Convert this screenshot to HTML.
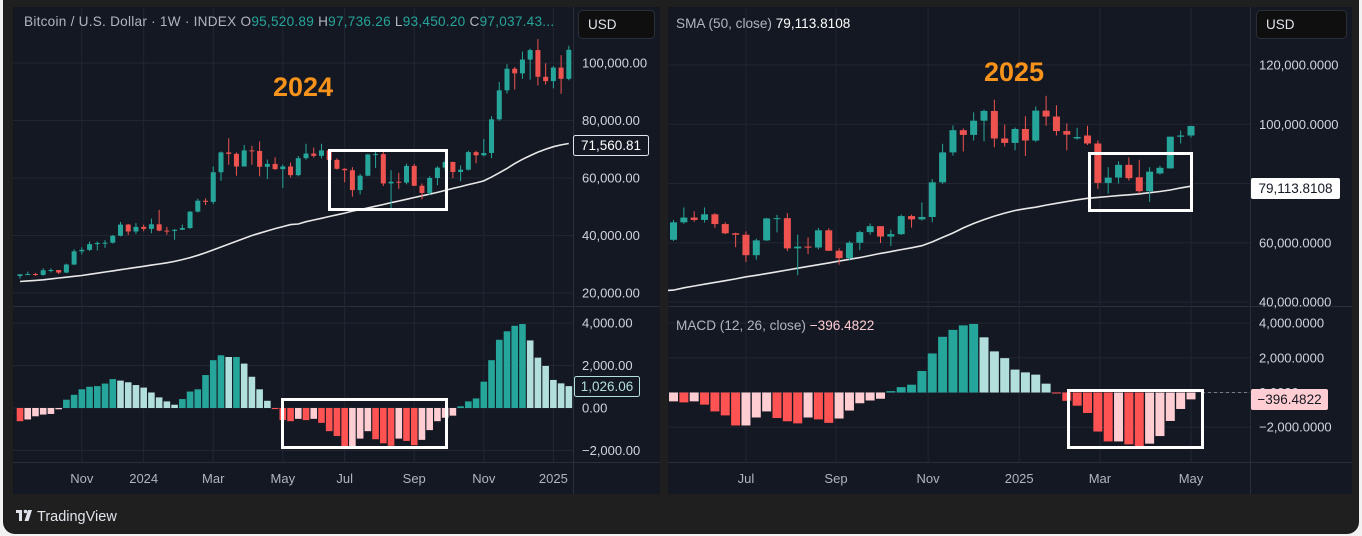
<!DOCTYPE html>
<html><head><meta charset="utf-8"><style>
html,body{margin:0;padding:0;background:#f2f2f2;}
#wrap{position:absolute;left:3px;top:0;width:1356px;height:534px;background:#1f1f1f;border-radius:0 0 12px 12px;overflow:hidden;}
svg{position:absolute;left:-3px;top:0;}
text{font-family:"Liberation Sans",sans-serif;}
</style></head><body>
<div id="wrap">
<svg id="svg" width="1362" height="536" viewBox="0 0 1362 536">
<defs>
<clipPath id="cLP"><rect x="13" y="8" width="560" height="298"/></clipPath>
<clipPath id="cLM"><rect x="13" y="307" width="560" height="155"/></clipPath>
<clipPath id="cRP"><rect x="668" y="8" width="582" height="298"/></clipPath>
<clipPath id="cRM"><rect x="668" y="307" width="582" height="155"/></clipPath>
</defs>
<g>
<rect x="13" y="7" width="647" height="487" fill="#141823"/>
<line x1="13" y1="306.5" x2="660" y2="306.5" stroke="#2a2e39"/>
<line x1="13" y1="462.5" x2="660" y2="462.5" stroke="#2a2e39"/>
<line x1="573.5" y1="7" x2="573.5" y2="494" stroke="#2a2e39"/>
<g id="LP"></g><g id="LM"></g><g id="LT"></g>
</g>
<g>
<rect x="668" y="7" width="684" height="487" fill="#141823"/>
<line x1="668" y1="306.5" x2="1352" y2="306.5" stroke="#2a2e39"/>
<line x1="668" y1="462.5" x2="1352" y2="462.5" stroke="#2a2e39"/>
<line x1="1250.5" y1="7" x2="1250.5" y2="494" stroke="#2a2e39"/>
<g id="RP"></g><g id="RM"></g><g id="RT"></g>
</g>
</svg>
</div>
<script>
// ---- data (weekly, index 0 = 2023-09-04), prices in thousands USD
const opens =[25.9,26.5,26.6,26.3,27.9,28.0,27.1,29.9,34.5,35.0,37.0,37.4,37.5,39.9,43.8,41.4,43.0,42.3,43.9,41.7,41.6,42.0,42.6,48.3,52.1,51.7,62.0,68.9,68.4,64.0,69.6,69.4,63.9,64.9,63.1,64.0,61.0,66.9,68.5,67.7,69.6,66.3,63.2,62.7,55.8,60.8,68.2,68.3,58.1,58.7,58.4,64.2,57.3,54.8,60.0,63.6,65.6,62.1,62.9,69.0,67.9,68.7,80.4,90.5,98.0,96.4,101.2,104.5,95.2,93.7,98.4,94.5,104.6,102.6,97.7,95.2,96.2,93.5,80.2,82.0,86.3,82.1,77.4,83.4,85.1,95.8,96.2];
const highs =[26.5,27.4,27.0,28.6,28.6,28.0,30.2,35.2,35.9,37.9,37.9,38.4,40.2,44.7,44.0,44.3,43.8,45.9,48.9,43.0,42.2,43.8,48.5,52.8,52.9,64.0,69.2,73.8,68.9,71.5,71.2,72.7,66.4,67.2,64.7,65.4,67.7,71.9,70.6,71.9,70.0,66.9,63.4,63.8,61.4,68.4,69.4,70.0,62.7,61.8,65.0,64.9,58.1,60.6,64.1,66.5,65.6,64.4,69.5,69.5,73.6,81.5,93.4,99.6,98.6,104.0,105.0,108.3,99.9,98.9,102.7,106.0,109.6,106.4,100.3,98.8,99.5,94.5,85.5,87.5,88.8,88.0,85.5,86.0,95.8,97.9,99.5];
const lows  =[25.0,26.3,26.0,26.0,27.2,26.6,26.9,29.7,33.4,34.6,34.8,35.7,37.2,39.7,40.2,40.5,41.5,40.8,41.5,40.3,38.5,41.9,42.3,48.0,50.6,50.9,59.0,64.6,60.8,64.0,64.6,60.6,59.6,62.8,56.5,60.2,60.6,66.4,67.1,66.8,65.0,62.9,58.5,53.5,54.3,60.6,63.5,57.2,49.0,56.2,57.8,57.2,52.6,54.0,57.5,62.7,59.9,58.9,62.6,65.1,67.5,66.9,79.9,89.4,90.8,94.5,94.2,92.2,92.5,91.2,89.3,94.0,99.5,96.2,91.2,94.8,93.0,78.2,76.6,80.0,81.0,76.6,73.8,83.0,85.0,93.5,95.5];
const closes=[26.5,26.6,26.3,27.9,28.0,27.1,29.9,34.5,35.0,37.0,37.4,37.5,39.9,43.8,41.4,43.0,42.3,43.9,41.7,41.6,42.0,42.6,48.3,52.1,51.7,62.0,68.9,68.4,64.0,69.6,69.4,63.9,64.9,63.1,64.0,61.0,66.9,68.5,67.7,69.6,66.3,63.2,62.7,55.8,60.8,68.2,68.3,58.1,58.7,58.4,64.2,57.3,54.8,60.0,63.6,65.6,62.1,62.9,69.0,67.9,68.7,80.4,90.5,98.0,96.4,101.2,104.5,95.2,93.7,98.4,94.5,104.6,102.6,97.7,96.5,95.7,93.5,80.2,82.0,86.3,81.8,77.4,84.0,85.3,95.8,96.2,99.4];
const sma50 =[24.0,24.2,24.4,24.6,24.9,25.2,25.5,25.8,26.1,26.5,26.9,27.3,27.7,28.1,28.5,28.9,29.3,29.7,30.1,30.5,31.0,31.6,32.3,33.1,34.0,35.0,36.0,37.0,38.0,39.0,40.0,40.8,41.6,42.4,43.1,43.8,44.0,44.8,45.4,46.0,46.6,47.2,47.8,48.5,49.0,49.6,50.2,50.8,51.4,52.0,52.6,53.2,53.8,54.4,55.0,55.7,56.4,57.0,57.7,58.3,59.0,60.3,61.8,63.3,65.0,66.5,67.8,69.0,70.0,70.9,71.5,72.0,72.7,73.3,73.9,74.5,75.0,75.3,75.6,75.9,76.2,76.5,76.9,77.3,77.8,78.5,79.1];
const macdHist=[-620,-540,-390,-310,-280,-60,390,620,880,1000,1030,1150,1360,1290,1210,1080,960,730,500,310,155,420,775,880,1550,2250,2480,2400,2400,2090,1470,880,340,-50,-570,-620,-510,-570,-510,-700,-1090,-1320,-1900,-1900,-1440,-1090,-1470,-1660,-1780,-1440,-1550,-1750,-1500,-1040,-620,-460,-360,80,310,450,1240,2250,3210,3610,3870,3950,3180,2370,1980,1320,1160,1030,510,-30,-480,-760,-1180,-2250,-2820,-2820,-2990,-3240,-2950,-2510,-1640,-950,-396];
const leftPriceTicks=[100000,80000,60000,40000,20000];
const rightPriceTicks=[120000,100000,80000,60000,40000];
const leftMacdTicks=[4000,2000,0,-2000];
const rightMacdTicks=[4000,2000,0,-2000];
const leftTimeLabels=["Nov","2024","Mar","May","Jul","Sep","Nov","2025"];
const leftTimeIdx=[8,16,25,34,42,51,60,69];
const rightTimeLabels=["Jul","Sep","Nov","2025","Mar","May"];
const rightTimeIdx=[43,51.7,60.6,69.4,77.2,86];
const leftRange=[0,71];
const rightRange=[36,86];

const NS="http://www.w3.org/2000/svg";
function mk(tag,attrs,parent,txt){const e=document.createElementNS(NS,tag);for(const k in attrs)e.setAttribute(k,attrs[k]);if(txt!==undefined)e.textContent=txt;parent.appendChild(e);return e;}
const G='#26a69a',R='#ef5350';
function fmt(v,d){return v.toLocaleString('en-US',{minimumFractionDigits:d,maximumFractionDigits:d}).replace('-','\u2212');}

function panel(cfg){
  const P=document.getElementById(cfg.id+'P'),M=document.getElementById(cfg.id+'M'),T=document.getElementById(cfg.id+'T');
  const X=cfg.X,Y=cfg.Y,YM=cfg.YM;
  cfg.timeIdx.forEach((ti,k)=>{
    const g=mk('line',{x1:X(ti),x2:X(ti),y1:8,y2:462,stroke:'#222633'},P);
    
    
    const t=mk('text',{x:X(ti),y:483,'font-size':13,fill:'#b2b5be','text-anchor':'middle'},T,cfg.timeLabels[k]);
    
    
  });
  cfg.priceTicks.forEach(v=>{
    const y=Y(v/1000);
    const g=mk('line',{x1:cfg.plotL,x2:cfg.plotR,y1:y,y2:y,stroke:'#222633'},P);
    
    
    const t=mk('text',{x:cfg.plotR+9,y:y+4.5,'font-size':13,fill:'#d1d4dc'},P,fmt(v,cfg.dec));
    
    
  });
  cfg.macdTicks.forEach(v=>{
    const y=YM(v);
    const g=mk('line',{x1:cfg.plotL,x2:cfg.plotR,y1:y,y2:y,stroke:'#222633'},M);
    
    
    const t=mk('text',{x:cfg.plotR+9,y:y+4.5,'font-size':13,fill:'#d1d4dc'},M,fmt(v,cfg.dec));
    
    
  });
  const cp=mk('g',{'clip-path':'url(#c'+cfg.id+'P)'},P);
  const cm=mk('g',{'clip-path':'url(#c'+cfg.id+'M)'},M);
  let pts=[];
  for(let i=cfg.range[0]-1;i<=cfg.range[1];i++){if(i>=0)pts.push(X(i).toFixed(1)+','+Y(sma50[i]).toFixed(1));}
  const sl=mk('polyline',{points:pts.join(' '),fill:'none',stroke:'#e8e8e8','stroke-width':1.6},cp);
  
  
  for(let i=cfg.range[0];i<=cfg.range[1];i++){
    const o=opens[i],h=highs[i],l=lows[i],c=closes[i],col=c>=o?G:R,x=X(i);
    const wk=mk('line',{x1:x,x2:x,y1:Y(h),y2:Y(l),stroke:col,'stroke-width':1},cp);
    
    
    const y1=Math.min(Y(o),Y(c)),hh=Math.max(1,Math.abs(Y(o)-Y(c)));
    const b=mk('rect',{x:x-cfg.cw/2,y:y1,width:cfg.cw,height:hh,fill:col},cp);
    
    
  }
  for(let i=cfg.range[0];i<=cfg.range[1];i++){
    const v=macdHist[i],pv=i>0?macdHist[i-1]:0;
    const col=v>=0?(v>=pv?'#26a69a':'#b2dfdb'):(v<pv?'#ff5252':'#ffcdd2');
    const y0=YM(0),y=YM(v);
    const r=mk('rect',{x:X(i)-cfg.bw/2,y:Math.min(y0,y),width:cfg.bw,height:Math.max(1,Math.abs(y-y0)),fill:col},cm);
    
    
  }
}
const xL=i=>20+i*7.73, yL=v=>63+(100-v)*2.875, yLM=v=>408-v*42.5/2000;
const xR=i=>1191+(i-86)*10.35, yR=v=>65+(120-v)*2.9625, yRM=v=>392.5-v*34.7/2000;
panel({id:'L',X:xL,Y:yL,YM:yLM,plotL:13,plotR:573,dec:2,cw:5,bw:6.6,range:leftRange,priceTicks:leftPriceTicks,macdTicks:leftMacdTicks,timeLabels:leftTimeLabels,timeIdx:leftTimeIdx});
panel({id:'R',X:xR,Y:yR,YM:yRM,plotL:668,plotR:1250,dec:4,cw:7,bw:9,range:rightRange,priceTicks:rightPriceTicks,macdTicks:rightMacdTicks,timeLabels:rightTimeLabels,timeIdx:rightTimeIdx});
</script>
<svg width="1362" height="536" viewBox="0 0 1362 536" style="position:absolute;left:0;top:0">
<line x1="1202" y1="392.5" x2="1250" y2="392.5" stroke="#787b86" stroke-dasharray="3,3"/>
<text x="24" y="26" font-size="13.6" letter-spacing="0.25" fill="#b2b5be">Bitcoin / U.S. Dollar · 1W · INDEX  <tspan fill="#b2b5be">O</tspan><tspan fill="#26a69a">95,520.89</tspan>  <tspan fill="#b2b5be">H</tspan><tspan fill="#26a69a">97,736.26</tspan>  <tspan fill="#b2b5be">L</tspan><tspan fill="#26a69a">93,450.20</tspan>  <tspan fill="#b2b5be">C</tspan><tspan fill="#26a69a">97,037.43...</tspan></text>
<text x="676" y="28" font-size="13.6" fill="#b2b5be">SMA (50, close)  <tspan fill="#ffffff">79,113.8108</tspan></text>
<text x="676" y="330" font-size="13.6" fill="#b2b5be">MACD (12, 26, close)  <tspan fill="#ffcdd2">−396.4822</tspan></text>
<rect x="578.5" y="10.5" width="76" height="28" rx="4" fill="#0f0f0f" stroke="#2a2e39"/>
<text x="588" y="29" font-size="13.5" fill="#e0e3eb">USD</text>
<rect x="1256.5" y="10.5" width="90" height="28" rx="4" fill="#0f0f0f" stroke="#2a2e39"/>
<text x="1266" y="29" font-size="13.5" fill="#e0e3eb">USD</text>
<text x="273" y="96" font-size="27" font-weight="bold" fill="#f7931a">2024</text>
<text x="984" y="81" font-size="27" font-weight="bold" fill="#f7931a">2025</text>
<rect x="329.5" y="150.5" width="117" height="59" fill="none" stroke="#ffffff" stroke-width="3"/>
<rect x="282.5" y="399.5" width="164" height="48" fill="none" stroke="#ffffff" stroke-width="3"/>
<rect x="1089.5" y="153.5" width="102" height="57" fill="none" stroke="#ffffff" stroke-width="3"/>
<rect x="1068.5" y="390.5" width="134" height="57" fill="none" stroke="#ffffff" stroke-width="3"/>
<rect x="573.5" y="135.5" width="75" height="20" rx="2" fill="#141823" stroke="#e0e3eb"/>
<text x="611" y="150" font-size="13.5" fill="#ffffff" text-anchor="middle">71,560.81</text>
<rect x="1251" y="178" width="89" height="21" rx="2" fill="#ffffff"/>
<text x="1295.5" y="193" font-size="13.5" fill="#131722" text-anchor="middle">79,113.8108</text>
<rect x="574.5" y="376.5" width="65" height="20" rx="2" fill="#141823" stroke="#b2dfdb"/>
<text x="607" y="391" font-size="13.5" fill="#b2dfdb" text-anchor="middle">1,026.06</text>
<rect x="1251" y="389" width="77" height="21" rx="2" fill="#ffcdd2"/>
<text x="1289.5" y="404" font-size="13.5" fill="#131722" text-anchor="middle">−396.4822</text>
<g>
<rect x="16" y="510" width="6" height="3" fill="#e0e3eb"/><rect x="19" y="510" width="3" height="11" fill="#e0e3eb"/>
<circle cx="25.5" cy="511.5" r="1.8" fill="#e0e3eb"/>
<polygon points="28,510 32,510 28.5,521 24.5,521" fill="#e0e3eb"/>
<text x="37" y="521" font-size="14.5" fill="#e0e3eb">TradingView</text>
</g>
</svg>
</body></html>
